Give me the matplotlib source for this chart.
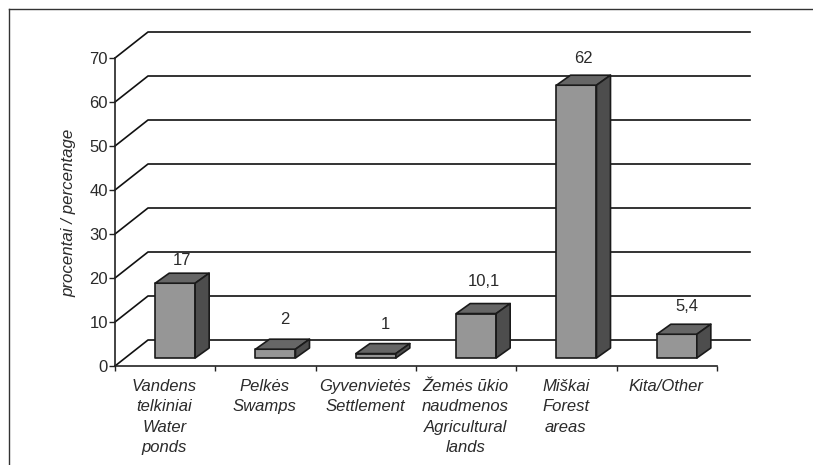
import matplotlib
matplotlib.use("Agg")
import matplotlib.pyplot as plt
from matplotlib.lines import Line2D
from matplotlib.patches import Polygon

plt.rcParams['font.family'] = ['Liberation Sans', 'DejaVu Sans']

categories = ["Vandens\ntelkiniai\nWater\nponds", "Pelkės\nSwamps", "Gyvenvietės\nSettlement",
              "Žemės ūkio\nnaudmenos\nAgricultural\nlands", "Miškai\nForest\nareas", "Kita/Other"]
values = [17, 2, 1, 10.1, 62, 5.4]
value_labels = ["17", "2", "1", "10,1", "62", "5,4"]
yticks = [0, 10, 20, 30, 40, 50, 60, 70]
# the labels do not sit at one fixed distance above the bars
label_nudge_x = [0, 1.5, 1.5, 0.5, 0, 2]
label_nudge_y = [9.5, 14, 14, 16, 11.7, 12.5]

W, H = 813, 465
fig = plt.figure(figsize=(W / 100, H / 100), dpi=100)
ax = fig.add_axes([115 / W, 1 - 366 / H, 602 / W, 308 / H])
ax.set_xlim(0, len(categories))
ax.set_ylim(0, 70)
ax.patch.set_visible(False)

# fake 3d: depth of the floor and of each bar, in data units
px_x = 602 / len(categories)
px_y = 308 / 70
wall_dx, wall_dy = 33 / px_x, 26 / px_y
bar_dx, bar_dy = 14 / px_x, 10 / px_y
bar_off_x, bar_off_y = 11 / px_x, 8 / px_y
bar_w = 40 / px_x

line_col = "#111111"
for v in yticks:
    ax.plot([0, wall_dx, len(categories) + wall_dx], [v, v + wall_dy, v + wall_dy],
            color=line_col, lw=1.2, clip_on=False, zorder=1)

for i, v in enumerate(values):
    x0 = i + 0.5 - bar_w / 2 + bar_off_x - 0.01
    x1 = x0 + bar_w
    y0 = bar_off_y
    y1 = y0 + v
    edge = dict(edgecolor="#1a1a1a", lw=1.2, clip_on=False, zorder=3, joinstyle="round")
    ax.add_patch(Polygon([(x0, y0), (x1, y0), (x1, y1), (x0, y1)], facecolor="#969696", **edge))
    ax.add_patch(Polygon([(x0, y1), (x1, y1), (x1 + bar_dx, y1 + bar_dy), (x0 + bar_dx, y1 + bar_dy)],
                         facecolor="#666666", **edge))
    ax.add_patch(Polygon([(x1, y0), (x1 + bar_dx, y0 + bar_dy), (x1 + bar_dx, y1 + bar_dy), (x1, y1)],
                         facecolor="#4d4d4d", **edge))
    ax.annotate(value_labels[i], (x0 + bar_w / 2 + bar_dx / 2, y1 + bar_dy),
                xytext=(label_nudge_x[i], label_nudge_y[i]),
                textcoords="offset points", ha="center", va="center", fontsize=12,
                color="#2a2a2a", annotation_clip=False, zorder=4)

for s in ("top", "right"):
    ax.spines[s].set_visible(False)
for s in ("left", "bottom"):
    ax.spines[s].set_linewidth(1.2)
    ax.spines[s].set_color("#222222")

ax.set_yticks(yticks)
ax.set_xticks(range(len(categories) + 1))
ax.set_xticklabels([])
ax.tick_params(axis="y", length=4, width=1, color="#222222", labelsize=12, labelcolor="#2a2a2a", pad=1)
ax.tick_params(axis="x", length=3.5, width=1, color="#222222")

for i, c in enumerate(categories):
    ax.annotate(c, (i + 0.5, 0), xytext=(-0.5, -9.5), textcoords="offset points", ha="center", va="top",
                fontsize=12, style="italic", color="#2a2a2a", linespacing=1.44, annotation_clip=False)

ax.set_ylabel("procentai / percentage", fontsize=12.2, style="italic", color="#2a2a2a")
ax.yaxis.set_label_coords((76 - 115) / 602, (366 - 213) / 308)

# outer picture frame, only top and left are left in the scan
fig.add_artist(Line2D([9 / W, 1], [1 - 9 / H, 1 - 9 / H], color="#333333", lw=1))
fig.add_artist(Line2D([9 / W, 9 / W], [1 - 9 / H, 0], color="#333333", lw=1))

fig.savefig("out.png", dpi=100)
